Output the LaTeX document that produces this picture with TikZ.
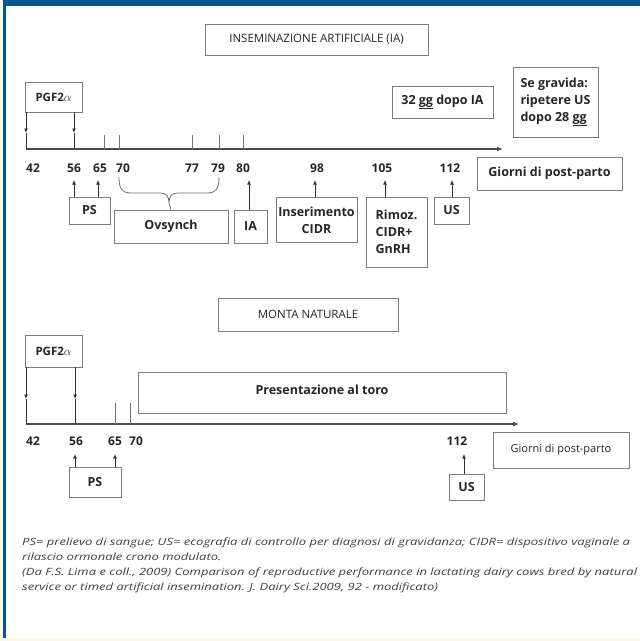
\documentclass[tikz,border=0pt]{standalone}
\usepackage{fontspec}
\setmainfont{Open Sans}
\usetikzlibrary{arrows.meta}
\definecolor{bandblue}{RGB}{0,86,141}
\definecolor{cream}{RGB}{253,246,227}
\definecolor{boxgray}{RGB}{125,125,125}
\newcommand{\notefont}{\fontsize{10}{12}\selectfont\itshape}
\newcommand{\noteline}[1]{\scalebox{1.3}[1]{#1}}
\tikzset{
  box/.style={draw=boxgray, line width=0.8pt, fill=white, inner sep=1pt, align=center,
    font=\fontsize{12.5}{17}\selectfont\bfseries, text=black!85},
  head/.style={box, font=\fontsize{11.5}{13}\selectfont},
  lab/.style={font=\fontsize{12}{13}\selectfont\bfseries, text=black!85, inner sep=0pt},
  note/.style={font=\notefont, text=black!75, inner sep=0pt, anchor=base west},
  axisline/.style={draw=black!70, line width=1.6pt, -{Latex[length=6pt,width=5pt]}},
  tick/.style={draw=black!55, line width=0.8pt},
  stem/.style={draw=black!80, line width=0.9pt},
  arr/.style={stem, -{Latex[length=4.5pt,width=4pt]}},
}
\begin{document}
\begin{tikzpicture}[x=1pt, y=-1pt]
  % Frame
  \fill[cream] (0,0) rectangle (640,641);
  \fill[white] (6,6) rectangle (640,638);
  \fill[bandblue] (3,0) rectangle (640,6);
  \fill[bandblue] (3,0) rectangle (6,638);
  \useasboundingbox (0,0) rectangle (640,641);

  % Inseminazione artificiale
  \node[head, minimum width=223, minimum height=31] (titleA) at (316.5,39.5) {INSEMINAZIONE ARTIFICIALE (IA)};
  \node[box, font=\fontsize{11.5}{13}\selectfont\bfseries, minimum width=57, minimum height=30] (pgfA) at (53.5,97) {PGF2$\alpha$};
  \node[box, minimum width=101, minimum height=32] (ggA) at (442.5,102) {32 \underline{gg} dopo IA};
  \node[box, align=left, minimum width=85, minimum height=70] (gravA) at (555.5,102) {Se gravida:\\ripetere US\\dopo 28 \underline{gg}};
  \node[box, minimum width=145, minimum height=33] (giorniA) at (549.5,173.5) {Giorni di post-parto};
  \node[box, minimum width=41, minimum height=27] (psA) at (89.5,210.5) {PS};
  \node[box, minimum width=114, minimum height=33] (ovA) at (171,226.5) {Ovsynch};
  \node[box, minimum width=33, minimum height=33] (iaA) at (250.5,226.5) {IA};
  \node[box, minimum width=81, minimum height=45] (cidrA) at (316.5,220) {Inserimento\\CIDR};
  \node[box, align=left, minimum width=61, minimum height=70] (rimA) at (396.5,232) {Rimoz.\\CIDR+\\GnRH};
  \node[box, minimum width=35, minimum height=27] (usA) at (451.5,210.5) {US};

  \coordinate (axA0) at (26,149);
  \coordinate (axA1) at (503,149);
  \draw[axisline] (axA0) -- (axA1);
  \foreach \x in {104,119,192,219,243}
    \draw[tick] (\x,135) -- (\x,149);
  \foreach \x [count=\i] in {26,74} {
    \coordinate (dA\i) at (\x,133);
    \draw[arr] (pgfA.south -| dA\i) -- (dA\i);
    \draw[stem] (dA\i) -- (dA\i |- axA0);
  }
  \foreach \x/\d in {33/42, 74/56, 100/65, 123/70, 192/77, 218/79, 243/80, 317/98, 382/105, 450/112}
    \node[lab] (nA\d) at (\x,168) {\d};
  \foreach \b/\x [count=\i] in {psA/74, psA/98, iaA/249, cidrA/315, rimA/385, usA/452} {
    \coordinate (uA\i) at (\x,180);
    \draw[arr] (\b.north -| uA\i) -- (uA\i);
  }
  % brace over Ovsynch
  \draw[tick] (119,177) .. controls (119,189) and (122,193) .. (131,193) -- (160,193)
    .. controls (166,193) and (169,196) .. (169,203) -- (ovA.north)
    (169,203) .. controls (169,196) and (172,193) .. (178,193) -- (207,193)
    .. controls (216,193) and (219,189) .. (219,177);

  % Monta naturale
  \node[head, minimum width=180, minimum height=33] (titleB) at (308,314.5) {MONTA NATURALE};
  \node[box, font=\fontsize{11.5}{13}\selectfont\bfseries, minimum width=57, minimum height=32] (pgfB) at (53.5,351) {PGF2$\alpha$};
  \node[box, minimum width=368, minimum height=41] (toroB) at (322,392.5) {\raisebox{5pt}{Presentazione al toro}};
  \node[box, minimum width=52, minimum height=30] (psB) at (95,482) {PS};
  \node[box, minimum width=35, minimum height=26] (usB) at (466.5,487) {US};
  \node[box, font=\fontsize{11}{12}\selectfont, minimum width=136, minimum height=36] (giorniB) at (561,450) {Giorni di post-parto};

  \coordinate (axB0) at (26,424);
  \coordinate (axB1) at (519,424);
  \draw[axisline] (axB0) -- (axB1);
  \foreach \x in {115,130}
    \draw[tick] (\x,403) -- (\x,424);
  \foreach \x [count=\i] in {26,75} {
    \coordinate (dB\i) at (\x,399);
    \draw[arr] (pgfB.south -| dB\i) -- (dB\i);
    \draw[stem] (dB\i) -- (dB\i |- axB0);
  }
  \foreach \x/\d in {33/42, 76/56, 115/65, 136/70, 457/112}
    \node[lab] (nB\d) at (\x,441) {\d};
  \foreach \b/\x [count=\i] in {psB/75, psB/115, usB/464} {
    \coordinate (uB\i) at (\x,454);
    \draw[arr] (\b.north -| uB\i) -- (uB\i);
  }

  % Note
  \node[note] (noteA) at (22,545) {\noteline{PS= prelievo di sangue; US= ecografia di controllo per diagnosi di gravidanza; CIDR= dispositivo vaginale a}};
  \node[note] (noteB) at (22,560) {\noteline{rilascio ormonale crono modulato.}};
  \node[note] (noteC) at (22,575) {\noteline{(Da F.S. Lima e coll., 2009) Comparison of reproductive performance in lactating dairy cows bred by natural}};
  \node[note] (noteD) at (22,590) {\noteline{service or timed artificial insemination. J. Dairy Sci.2009, 92 - modificato)}};
\end{tikzpicture}
\end{document}
